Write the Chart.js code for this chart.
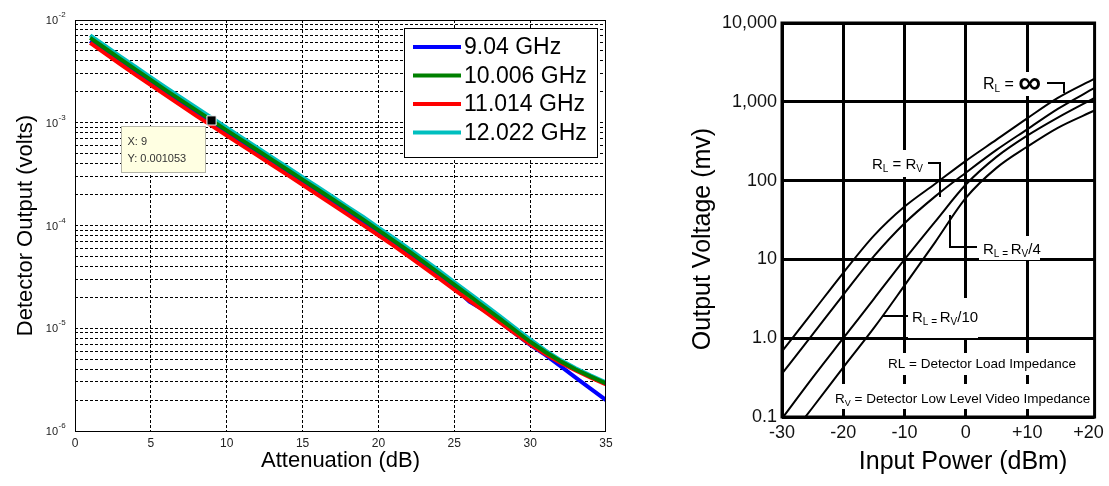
<!DOCTYPE html>
<html>
<head>
<meta charset="utf-8">
<script src="https://cdn.jsdelivr.net/npm/chart.js"></script>
<style>
  html, body { margin: 0; padding: 0; background: #fff; }
  body { width: 1109px; height: 486px; position: relative; overflow: hidden; }
  #detector { position: absolute; left: 0; top: 0; }
  #transfer { position: absolute; left: 680px; top: 0; }
</style>
</head>
<body>
<canvas id="detector" width="640" height="486"></canvas>
<canvas id="transfer" width="429" height="486"></canvas>
<script>
const FONT = "'Liberation Sans', Arial, Helvetica, sans-serif";

/* ---------- Detector output vs. attenuation ---------- */
const attenuationDb = [1, 2, 3, 4, 5, 6, 7, 8, 9, 10, 11, 12, 13, 14, 15, 16, 17, 18,
  19, 20, 21, 22, 23, 24, 25, 26, 27, 28, 29, 30, 31, 32, 33, 34, 35];

const volts904 = [6.26e-3, 4.92e-3, 3.88e-3, 3.07e-3, 2.43e-3, 1.93e-3, 1.54e-3, 1.23e-3,
  9.82e-4, 7.88e-4, 6.31e-4, 5.06e-4, 4.06e-4, 3.25e-4, 2.61e-4, 2.09e-4, 1.67e-4,
  1.33e-4, 1.06e-4, 8.42e-5, 6.66e-5, 5.24e-5, 4.10e-5, 3.20e-5, 2.48e-5, 1.82e-5,
  1.49e-5, 1.15e-5, 8.92e-6, 6.89e-6, 5.50e-6, 4.27e-6, 3.31e-6, 2.57e-6, 2.00e-6];

const volts10006 = [6.71e-3, 5.28e-3, 4.16e-3, 3.29e-3, 2.61e-3, 2.07e-3, 1.65e-3, 1.32e-3,
  1.053e-3, 8.44e-4, 6.77e-4, 5.43e-4, 4.35e-4, 3.49e-4, 2.80e-4, 2.24e-4, 1.79e-4,
  1.43e-4, 1.14e-4, 9.02e-5, 7.14e-5, 5.62e-5, 4.40e-5, 3.43e-5, 2.66e-5, 2.07e-5,
  1.60e-5, 1.24e-5, 9.56e-6, 7.39e-6, 5.87e-6, 4.77e-6, 3.97e-6, 3.38e-6, 2.91e-6];

const volts11014 = [5.98e-3, 4.70e-3, 3.71e-3, 2.93e-3, 2.33e-3, 1.85e-3, 1.47e-3, 1.17e-3,
  9.38e-4, 7.52e-4, 6.03e-4, 4.84e-4, 3.88e-4, 3.11e-4, 2.49e-4, 1.99e-4, 1.59e-4,
  1.27e-4, 1.01e-4, 8.04e-5, 6.36e-5, 5.00e-5, 3.92e-5, 3.06e-5, 2.37e-5, 1.86e-5,
  1.46e-5, 1.14e-5, 8.92e-6, 6.97e-6, 5.60e-6, 4.61e-6, 3.88e-6, 3.30e-6, 2.84e-6];

const volts12022 = [7.10e-3, 5.59e-3, 4.41e-3, 3.49e-3, 2.76e-3, 2.19e-3, 1.75e-3, 1.40e-3,
  1.12e-3, 8.94e-4, 7.17e-4, 5.75e-4, 4.61e-4, 3.69e-4, 2.96e-4, 2.37e-4, 1.90e-4,
  1.51e-4, 1.21e-4, 9.55e-5, 7.56e-5, 5.95e-5, 4.66e-5, 3.63e-5, 2.82e-5, 2.19e-5,
  1.70e-5, 1.31e-5, 1.01e-5, 7.80e-6, 6.10e-6, 4.90e-6, 4.07e-6, 3.46e-6, 2.97e-6];

const frequencyLabels = ['9.04 GHz', '10.006 GHz', '11.014 GHz', '12.022 GHz'];
const frequencyColors = ['#0000ff', '#008000', '#ff0000', '#00bfbf'];
const attenuationTicks = [0, 5, 10, 15, 20, 25, 30, 35];
const voltDecades = [1e-6, 1e-5, 1e-4, 1e-3, 1e-2];
const voltDecadeExponents = ['-6', '-5', '-4', '-3', '-2'];
const voltMantissas = [1, 2, 3, 4, 5, 6, 7, 8, 9];

// data cursor readout
const cursorX = 9;
const cursorY = 0.001053;

const seriesValues = [volts904, volts10006, volts11014, volts12022];
const drawOrder = [4, 1, 2, 3];   // lower order is painted on top

const detectorDecor = {
  id: 'detectorDecor',
  afterDatasetsDraw(chart) {
    const { ctx, chartArea: a, scales } = chart;
    ctx.save();
    // plot box
    ctx.strokeStyle = '#000';
    ctx.lineWidth = 1;
    ctx.strokeRect(Math.round(a.left) + 0.5, Math.round(a.top) + 0.5,
      Math.round(a.right - a.left) - 1, Math.round(a.bottom - a.top));
    // decade labels 10^n
    ctx.fillStyle = '#222';
    voltDecades.forEach((v, i) => {
      const py = scales.y.getPixelForValue(v);
      ctx.font = '11px ' + FONT;
      ctx.textAlign = 'right';
      ctx.textBaseline = 'middle';
      ctx.fillText('10', a.left - 17, py + 1);
      ctx.font = '8px ' + FONT;
      ctx.textAlign = 'left';
      ctx.fillText(voltDecadeExponents[i], a.left - 16.5, py - 5);
    });
    ctx.restore();
  },
  afterDraw(chart) {
    const { ctx, scales } = chart;
    ctx.save();
    // legend box
    const lx = 404.5, ly = 28.5, lw = 193, lh = 129;
    ctx.fillStyle = '#fff';
    ctx.fillRect(lx, ly, lw, lh);
    ctx.strokeStyle = '#000';
    ctx.lineWidth = 1;
    ctx.strokeRect(lx, ly, lw, lh);
    frequencyLabels.forEach((lab, i) => {
      const ry = 47 + i * 28.5;
      ctx.strokeStyle = frequencyColors[i];
      ctx.lineWidth = 4;
      ctx.beginPath();
      ctx.moveTo(413, ry);
      ctx.lineTo(461, ry);
      ctx.stroke();
      ctx.fillStyle = '#000';
      ctx.font = '23px ' + FONT;
      ctx.textAlign = 'left';
      ctx.textBaseline = 'middle';
      ctx.fillText(lab, 464, ry + 1);
    });
    // data cursor readout box
    const mx = scales.x.getPixelForValue(cursorX);
    const my = scales.y.getPixelForValue(cursorY);
    const bx = Math.round(mx - 91) + 0.5, by = Math.round(my + 6) + 0.5;
    ctx.fillStyle = 'rgb(255,255,226)';
    ctx.fillRect(bx, by, 84, 46);
    ctx.strokeStyle = '#b4b4a8';
    ctx.lineWidth = 1;
    ctx.strokeRect(bx, by, 84, 46);
    ctx.fillStyle = '#333';
    ctx.font = '11px ' + FONT;
    ctx.textAlign = 'left';
    ctx.textBaseline = 'middle';
    ctx.fillText('X: ' + cursorX, bx + 6, by + 15);
    ctx.fillText('Y: ' + cursorY, bx + 6, by + 32);
    ctx.restore();
  }
};

const detectorDatasets = frequencyLabels.map((lab, i) => ({
  label: lab,
  data: attenuationDb.map((x, j) => ({ x, y: seriesValues[i][j] })),
  borderColor: frequencyColors[i],
  backgroundColor: frequencyColors[i],
  borderWidth: 4,
  pointRadius: 0,
  tension: 0,
  order: drawOrder[i]
}));
detectorDatasets.push({
  label: 'cursor',
  data: [{ x: cursorX, y: cursorY }],
  showLine: false,
  pointStyle: 'rect',
  pointRadius: 6.5,
  pointBackgroundColor: '#000',
  pointBorderColor: '#fff',
  pointBorderWidth: 1,
  order: 0
});

new Chart(document.getElementById('detector'), {
  type: 'line',
  data: { datasets: detectorDatasets },
  plugins: [detectorDecor],
  options: {
    responsive: false,
    animation: false,
    events: [],
    layout: { padding: { left: 0, top: 20, right: 34, bottom: 0 } },
    plugins: { legend: { display: false }, tooltip: { enabled: false } },
    scales: {
      x: {
        type: 'linear',
        min: 0,
        max: 35,
        afterBuildTicks: s => { s.ticks = attenuationTicks.map(v => ({ value: v })); },
        afterFit: s => { s.height = 55; },
        grid: {
          drawTicks: false,
          lineWidth: 1,
          color: c => (c.tick && (c.tick.value === 0 || c.tick.value === 35)) ? 'rgba(0,0,0,0)' : '#000'
        },
        border: { display: false, dash: [3, 2] },
        ticks: { font: { family: FONT, size: 12 }, color: '#222', padding: 5, maxRotation: 0, autoSkip: false },
        title: {
          display: true, text: 'Attenuation (dB)', color: '#000',
          font: { family: FONT, size: 22 }, padding: { top: 0, bottom: 12 }
        }
      },
      y: {
        type: 'logarithmic',
        min: 1e-6,
        max: 1e-2,
        afterBuildTicks: s => {
          const t = [];
          voltDecades.forEach(d => voltMantissas.forEach(m => {
            if (d < 1e-2 || m === 1) t.push({ value: m * d });
          }));
          s.ticks = t;
        },
        afterFit: s => { s.width = 75; },
        grid: {
          drawTicks: false,
          lineWidth: 1,
          color: c => (c.tick && (c.tick.value <= 1.0001e-6 || c.tick.value >= 0.99e-2)) ? 'rgba(0,0,0,0)' : '#000'
        },
        border: { display: false, dash: [3, 2] },
        ticks: { display: false },
        title: {
          display: true, text: 'Detector Output (volts)', color: '#000',
          font: { family: FONT, size: 22 }, padding: { top: 13, bottom: 0 }
        }
      }
    }
  }
});

/* ---------- Output voltage vs. input power ---------- */
const inputPowerDbm = [-30, -25, -20, -15, -10, -5, 0, 5, 10, 15, 21];
const mvLoadInfinite = [0.68, 2.14, 6.76, 20.0, 46.8, 91.2, 178, 331, 617, 1122, 1972];
const mvLoadRv = [0.355, 1.12, 3.55, 11.0, 28.8, 63.1, 126, 245, 447, 813, 1500];
const mvLoadRv4 = [0.0955, 0.316, 1.0, 3.16, 10.0, 30.2, 89.1, 200, 372, 631, 1122];
const mvLoadRv10 = [0.0417, 0.132, 0.427, 1.35, 4.68, 16.6, 60.3, 145, 269, 468, 776];
const loadLabels = ['RL = \u221e', 'RL = RV', 'RL = RV/4', 'RL = RV/10'];
const powerTicks = [-30, -20, -10, 0, 10, 20];
const powerTickLabels = ['-30', '-20', '-10', '0', '+10', '+20'];
const voltageTicks = [0.1, 1, 10, 100, 1000, 10000];
const voltageTickLabels = ['0.1', '1.0', '10', '100', '1,000', '10,000'];

const loadCurves = [mvLoadInfinite, mvLoadRv, mvLoadRv4, mvLoadRv10];

// text with subscripts: parts = [text, size, baseline shift, bold]
function richText(ctx, x, cy, parts) {
  let cx = x;
  ctx.textAlign = 'left';
  parts.forEach(([t, size, dy, bold]) => {
    ctx.font = (bold ? 'bold ' : '') + size + 'px ' + FONT;
    if (t === '\u221e') {
      ctx.textBaseline = 'middle';
      ctx.fillText(t, cx, cy + dy);
    } else {
      ctx.textBaseline = 'alphabetic';
      ctx.fillText(t, cx, cy + 5.5 + dy);
    }
    cx += ctx.measureText(t).width;
  });
}

function leader(ctx, pts) {
  ctx.beginPath();
  ctx.moveTo(pts[0][0], pts[0][1]);
  for (let i = 1; i < pts.length; i++) ctx.lineTo(pts[i][0], pts[i][1]);
  ctx.stroke();
}

const transferDecor = {
  id: 'transferDecor',
  beforeDatasetsDraw(chart) {
    const ctx = chart.ctx;
    ctx.save();
    ctx.fillStyle = '#fff';
    // label backgrounds break the grid lines behind the notes
    [[298, 72, 63, 24], [188, 150, 58, 27], [299, 236, 61, 24], [228, 298, 70, 40],
     [208, 353, 190, 22], [152, 384, 259, 25]].forEach(r => ctx.fillRect(r[0], r[1], r[2], r[3]));
    ctx.restore();
  },
  afterDatasetsDraw(chart) {
    const { ctx, chartArea: a } = chart;
    ctx.save();
    ctx.strokeStyle = '#000';
    ctx.lineWidth = 3;
    ctx.strokeRect(a.left, a.top, a.right - a.left, a.bottom - a.top);
    ctx.restore();
  },
  afterDraw(chart) {
    const ctx = chart.ctx;
    ctx.save();
    ctx.fillStyle = '#000';
    ctx.strokeStyle = '#000';
    ctx.lineWidth = 2;
    // curve callouts
    richText(ctx, 303, 83, [['R', 16, 0], ['L', 10, 3], [' = ', 16, 0], ['\u221e', 32, 1, true]]);
    leader(ctx, [[367, 83], [384, 83], [384, 93]]);
    richText(ctx, 192, 163, [['R', 15, 0], ['L', 10, 3], [' = ', 15, 0], ['R', 15, 0], ['V', 10, 3]]);
    leader(ctx, [[248, 163], [260, 163], [260, 197]]);
    richText(ctx, 303, 248, [['R', 15, 0], ['L', 10, 3], [' = ', 10, 3], ['R', 15, 0], ['V', 10, 3], ['/4', 15, 0]]);
    leader(ctx, [[270, 215], [270, 247], [297, 247]]);
    richText(ctx, 232, 316, [['R', 15, 0], ['L', 10, 3], [' = ', 10, 3], ['R', 15, 0], ['V', 10, 3], ['/10', 15, 0]]);
    leader(ctx, [[202, 316], [228, 316]]);
    // notes
    ctx.font = '13.5px ' + FONT;
    ctx.textAlign = 'center';
    ctx.textBaseline = 'middle';
    ctx.fillText('RL = Detector Load Impedance', 302, 364);
    richText(ctx, 155, 397, [['R', 13.5, 0], ['V', 9, 3], [' = Detector Low Level Video Impedance', 13.5, 0]]);
    // axis titles
    ctx.font = '25px ' + FONT;
    ctx.textAlign = 'center';
    ctx.textBaseline = 'middle';
    ctx.fillText('Input Power (dBm)', 283, 462);
    ctx.translate(23, 239);
    ctx.rotate(-Math.PI / 2);
    ctx.fillText('Output Voltage (mv)', 0, 0);
    ctx.restore();
  }
};

new Chart(document.getElementById('transfer'), {
  type: 'line',
  data: {
    datasets: loadLabels.map((lab, i) => ({
      label: lab,
      data: inputPowerDbm.map((p, j) => ({ x: p, y: loadCurves[i][j] })),
      borderColor: '#000',
      borderWidth: 2,
      pointRadius: 0,
      cubicInterpolationMode: 'monotone',
      clip: 0
    }))
  },
  plugins: [transferDecor],
  options: {
    responsive: false,
    animation: false,
    events: [],
    layout: { padding: { left: 0, top: 23, right: 14, bottom: 0 } },
    plugins: { legend: { display: false }, tooltip: { enabled: false } },
    scales: {
      x: {
        type: 'linear',
        min: -30,
        max: 21,
        afterBuildTicks: s => { s.ticks = powerTicks.map(v => ({ value: v })); },
        afterFit: s => { s.height = 69; },
        grid: {
          drawTicks: false,
          lineWidth: 3,
          color: c => (c.tick && c.tick.value === 20) ? 'rgba(0,0,0,0)' : '#000'
        },
        border: { display: false },
        ticks: {
          font: { family: FONT, size: 18 }, color: '#111', padding: 5, maxRotation: 0, autoSkip: false,
          callback: v => powerTickLabels[powerTicks.indexOf(v)]
        }
      },
      y: {
        type: 'logarithmic',
        min: 0.1,
        max: 10000,
        afterBuildTicks: s => { s.ticks = voltageTicks.map(v => ({ value: v })); },
        afterFit: s => { s.width = 102; },
        grid: { drawTicks: false, lineWidth: 3, color: '#000' },
        border: { display: false },
        ticks: {
          font: { family: FONT, size: 18 }, color: '#111', padding: 5, autoSkip: false,
          callback: v => voltageTickLabels[voltageTicks.indexOf(v)]
        }
      }
    }
  }
});
</script>
</body>
</html>
